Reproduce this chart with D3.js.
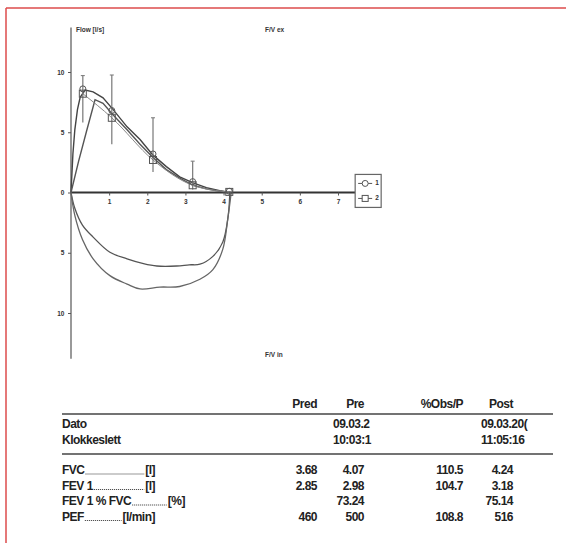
<!DOCTYPE html>
<html>
<head>
<meta charset="utf-8">
<script src="https://cdn.jsdelivr.net/npm/d3@7"></script>
<style>
  body { margin: 0; background: #fff; }
  svg { display: block; font-family: "Liberation Sans", Arial, sans-serif; }
  .tick-lbl { font-size: 6.5px; font-weight: bold; fill: #333; }
  .tbl { font-size: 12px; font-weight: bold; fill: #222; letter-spacing: -0.5px; }
</style>
</head>
<body>
<div class="chart"></div>
<script>
// expiratory loops (volume l, flow l/s)
const expVol1 = [0, 0.05, 0.1, 0.17, 0.24, 0.37, 0.58, 0.84, 1.1, 1.47, 1.81, 2.15, 2.5, 2.85, 3.2, 3.55, 3.9, 4.16];
const expFlow1 = [0, 3.2, 5.2, 6.9, 7.9, 8.5, 8.35, 7.85, 6.9, 5.45, 4.4, 3.1, 2.15, 1.3, 0.8, 0.4, 0.15, 0];
const expVol2 = [0, 0.2, 0.4, 0.63, 0.84, 1.1, 1.47, 1.81, 2.15, 2.5, 2.85, 3.2, 3.55, 3.9, 4.2];
const expFlow2 = [0, 2.6, 5.0, 7.7, 7.4, 6.45, 5.2, 4.0, 2.9, 1.9, 1.2, 0.6, 0.3, 0.1, 0];

// inspiratory loops
const inVol1 = [0, 0.1, 0.3, 0.58, 1.02, 1.47, 1.9, 2.25, 2.77, 3.1, 3.38, 3.72, 3.98, 4.11, 4.16, 4.16];
const inFlow1 = [0, -1.3, -2.7, -3.7, -4.96, -5.5, -5.9, -6.1, -6.1, -6.0, -5.95, -5.3, -4.1, -2.2, -0.3, 0];
const inVol2 = [0, 0.1, 0.3, 0.58, 1.02, 1.47, 1.81, 2.33, 2.85, 3.38, 3.72, 3.98, 4.11, 4.2];
const inFlow2 = [0, -1.9, -3.9, -5.5, -6.9, -7.6, -8.0, -7.85, -7.8, -7.2, -6.4, -4.7, -2.2, 0];

// predicted points with ranges
const predVol = [0.31, 1.07, 2.15, 3.19, 4.15];
const predFlow = [8.2, 6.2, 2.7, 0.6, 0.05];
const predHi = [9.7, 9.75, 6.2, 2.6, 0.05];
const predLo = [5.8, 4.0, 1.7, 0.25, 0.05];
const markFlow = [8.6, 6.8, 3.2, 0.9, 0.1];

const xTicks = [1, 2, 3, 4, 5, 6, 7];
const yTicks = [10, 5, 0, -5, -10];
const legendLabels = ['1', '2'];

// table
const colHeads = ['Pred', 'Pre', '%Obs/P', 'Post'];
const infoRows = [
  {name: 'Dato', pre: '09.03.2', post: '09.03.20('},
  {name: 'Klokkeslett', pre: '10:03:1', post: '11:05:16'}
];
const rowNames = ['FVC', 'FEV 1', 'FEV 1 % FVC', 'PEF'];
const rowUnits = ['[l]', '[l]', '[%]', '[l/min]'];
const predVals = ['3.68', '2.85', '', '460'];
const preVals = ['4.07', '2.98', '73.24', '500'];
const obsVals = ['110.5', '104.7', '', '108.8'];
const postVals = ['4.24', '3.18', '75.14', '516'];

const W = 566, H = 543;
const svg = d3.select('.chart').append('svg').attr('width', W).attr('height', H);

// frame
svg.append('line').attr('x1', 6).attr('x2', W).attr('y1', 8).attr('y2', 8)
  .attr('stroke', '#dc4b4b').attr('stroke-width', 1.5);
svg.append('line').attr('x1', 6).attr('x2', 6).attr('y1', 8).attr('y2', H)
  .attr('stroke', '#dc4b4b').attr('stroke-width', 1.5);

const x = d3.scaleLinear().domain([0, 7]).range([71, 338]);
const y = d3.scaleLinear().domain([10, -10]).range([72, 313]);

const g = svg.append('g');

// axes
g.append('line').attr('x1', x(0)).attr('x2', x(0)).attr('y1', y(13.7)).attr('y2', y(-13.8))
  .attr('stroke', '#777').attr('stroke-width', 1.5);
g.append('line').attr('x1', x(0)).attr('x2', x(7.45)).attr('y1', y(0)).attr('y2', y(0))
  .attr('stroke', '#333').attr('stroke-width', 2);

const xAxis = d3.axisBottom(x).tickValues(xTicks).tickSize(3).tickFormat(d3.format('d'));
const xg = g.append('g').attr('transform', `translate(0,${y(0)})`).call(xAxis);
xg.select('.domain').remove();
xg.selectAll('line').attr('stroke', '#555');
xg.selectAll('text').attr('class', 'tick-lbl').attr('dy', '0.9em');

const yAxis = d3.axisLeft(y).tickValues(yTicks).tickSize(3).tickFormat(d => Math.abs(d));
const yg = g.append('g').attr('transform', `translate(${x(0)},0)`).call(yAxis);
yg.select('.domain').remove();
yg.selectAll('line').attr('stroke', '#555');
yg.selectAll('text').attr('class', 'tick-lbl').attr('dx', '-0.1em');

g.append('text').attr('class', 'tick-lbl').attr('x', x(0) + 5).attr('y', 32).text('Flow [l/s]');
g.append('text').attr('class', 'tick-lbl').attr('x', 265).attr('y', 32).text('F/V ex');
g.append('text').attr('class', 'tick-lbl').attr('x', 265).attr('y', 357).text('F/V in');

// curves
const line = d3.line().x(d => x(d[0])).y(d => y(d[1])).curve(d3.curveMonotoneX);
const lineLin = d3.line().x(d => x(d[0])).y(d => y(d[1]));
const lineSmooth = d3.line().x(d => x(d[0])).y(d => y(d[1])).curve(d3.curveCatmullRom.alpha(0.5));
const zip = (a, b) => a.map((v, i) => [v, b[i]]);

g.append('path').datum(zip(expVol1, expFlow1)).attr('d', lineLin)
  .attr('fill', 'none').attr('stroke', '#444').attr('stroke-width', 1.4);
g.append('path').datum(zip(expVol2, expFlow2)).attr('d', lineLin)
  .attr('fill', 'none').attr('stroke', '#555').attr('stroke-width', 1.4);
g.append('path').datum(zip(predVol, predFlow)).attr('d', line)
  .attr('fill', 'none').attr('stroke', '#888').attr('stroke-width', 1);
g.append('path').datum(zip(inVol1, inFlow1)).attr('d', lineSmooth)
  .attr('fill', 'none').attr('stroke', '#555').attr('stroke-width', 1.3);
g.append('path').datum(zip(inVol2, inFlow2)).attr('d', lineSmooth)
  .attr('fill', 'none').attr('stroke', '#666').attr('stroke-width', 1.3);

// error bars
g.selectAll('.err').data(predVol.slice(0, 4)).enter().append('line')
  .attr('class', 'err')
  .attr('x1', d => x(d)).attr('x2', d => x(d))
  .attr('y1', (d, i) => y(predHi[i])).attr('y2', (d, i) => y(predLo[i]))
  .attr('stroke', '#777').attr('stroke-width', 1.2);
g.selectAll('.errcap').data(predVol.slice(0, 4)).enter().append('line')
  .attr('class', 'errcap')
  .attr('x1', d => x(d) - 2).attr('x2', d => x(d) + 2)
  .attr('y1', (d, i) => y(predHi[i])).attr('y2', (d, i) => y(predHi[i]))
  .attr('stroke', '#777').attr('stroke-width', 1);

// markers
g.selectAll('.sq').data(predVol).enter().append('rect').attr('class', 'sq')
  .attr('x', d => x(d) - 3.5).attr('y', (d, i) => y(predFlow[i]) - 3.5)
  .attr('width', 7).attr('height', 7)
  .attr('fill', 'none').attr('stroke', '#555').attr('stroke-width', 1);
g.selectAll('.ci').data(predVol).enter().append('circle').attr('class', 'ci')
  .attr('cx', d => x(d)).attr('cy', (d, i) => y(markFlow[i]))
  .attr('r', 3).attr('fill', 'none').attr('stroke', '#555').attr('stroke-width', 1);

// legend
const lg = g.append('g').attr('transform', `translate(${x(7.45)},${y(1.5)})`);
lg.append('rect').attr('width', 26).attr('height', 33)
  .attr('fill', '#fff').attr('stroke', '#666').attr('stroke-width', 1.2);
legendLabels.forEach((lab, i) => {
  const ly = 9 + i * 15;
  lg.append('line').attr('x1', 3).attr('x2', 17).attr('y1', ly).attr('y2', ly)
    .attr('stroke', '#555').attr('stroke-width', 1);
  if (i === 0) {
    lg.append('circle').attr('cx', 10).attr('cy', ly).attr('r', 3)
      .attr('fill', '#fff').attr('stroke', '#555');
  } else {
    lg.append('rect').attr('x', 7).attr('y', ly - 3).attr('width', 6).attr('height', 6)
      .attr('fill', '#fff').attr('stroke', '#555');
  }
  lg.append('text').attr('class', 'tick-lbl').attr('x', 20).attr('y', ly + 2).text(lab);
});

// table
const colX = [317, 364, 463, 513];
const t = svg.append('g');
t.selectAll('.head').data(colHeads).enter().append('text')
  .attr('class', 'tbl').attr('x', (d, i) => colX[i]).attr('y', 408)
  .attr('text-anchor', 'end').text(d => d);
t.append('line').attr('x1', 62).attr('x2', 553).attr('y1', 414).attr('y2', 414)
  .attr('stroke', '#444').attr('stroke-width', 1.6);
t.append('line').attr('x1', 62).attr('x2', 553).attr('y1', 454).attr('y2', 454)
  .attr('stroke', '#444').attr('stroke-width', 1.6);

infoRows.forEach((r, i) => {
  const yy = 428 + i * 16;
  t.append('text').attr('class', 'tbl').attr('x', 62).attr('y', yy).text(r.name);
  t.append('text').attr('class', 'tbl').attr('x', 333).attr('y', yy).text(r.pre);
  t.append('text').attr('class', 'tbl').attr('x', 481).attr('y', yy).text(r.post);
});

const unitEnd = [155, 155, 185, 155];
rowNames.forEach((name, i) => {
  const yy = 474 + i * 15.5;
  const nameNode = t.append('text').attr('class', 'tbl').attr('x', 62).attr('y', yy).text(name);
  const unitNode = t.append('text').attr('class', 'tbl').attr('x', unitEnd[i]).attr('y', yy)
    .attr('text-anchor', 'end').text(rowUnits[i]);
  const nEnd = 62 + nameNode.node().getComputedTextLength();
  const uStart = unitEnd[i] - unitNode.node().getComputedTextLength();
  t.append('line').attr('x1', nEnd + 1).attr('x2', uStart - 1).attr('y1', yy).attr('y2', yy)
    .attr('stroke', '#333').attr('stroke-width', 1.2).attr('stroke-dasharray', '1,1');
  [predVals[i], preVals[i], obsVals[i], postVals[i]].forEach((v, j) => {
    t.append('text').attr('class', 'tbl').attr('x', colX[j]).attr('y', yy)
      .attr('text-anchor', 'end').text(v);
  });
});
</script>
</body>
</html>
